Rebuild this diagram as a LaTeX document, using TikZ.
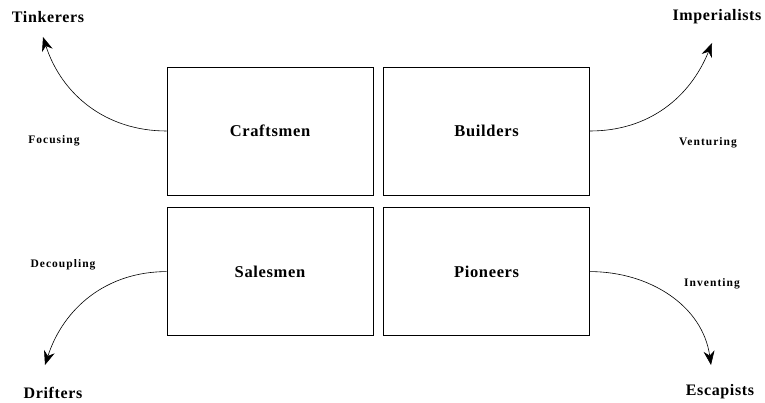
\documentclass[tikz,border=0pt]{standalone}
\usepackage{fontspec}
\setmainfont[LetterSpace=4]{Liberation Serif}
\newfontfamily\verbfont[LetterSpace=9]{Liberation Serif}
\usepackage{tikz}
\usetikzlibrary{arrows.meta,positioning}

\begin{document}
\begin{tikzpicture}[x=1pt,y=-1pt, node distance=12pt and 10pt,
 cell/.style={draw,line width=0.6pt,minimum width=206pt,minimum height=128pt,inner sep=0pt,font=\fontsize{16.5}{19}\selectfont\bfseries},
 fate/.style={font=\fontsize{16}{19}\selectfont\bfseries,inner sep=1pt},
 move/.style={font=\verbfont\fontsize{11.5}{14}\selectfont\bfseries,inner sep=1pt},
 arr/.style={-{Stealth[length=14pt,width=11pt]},line width=0.6pt}]
\useasboundingbox (0,0) rectangle (765,403);
% the four quadrants
\node[cell] (craft) at (270,131) {Craftsmen};
\node[cell,right=of craft] (build) {Builders};
\node[cell,below=of craft] (sales) {Salesmen};
\node[cell,below=of build] (pion) {Pioneers};
% outcomes
\node[fate] (tink) at (48,17) {Tinkerers};
\node[fate] (imp) at (717,17) {Imperialists};
\node[fate] (drift) at (53,393) {Drifters};
\node[fate] (esc) at (720,392) {Escapists};
\coordinate (tinkTip) at (43,37);
\coordinate (impTip) at (712,43);
\coordinate (driftTip) at (45,365);
\coordinate (escTip) at (711,365);
% moves
\node[move] (focus) at (54,141) {Focusing};
\node[move] (vent) at (708,143) {Venturing};
\node[move] (decoup) at (63,265) {Decoupling};
\node[move] (invent) at (712,284) {Inventing};
\draw[arr] (craft.west) to[out=180,in=-72] (tinkTip);
\draw[arr] (build.east) to[out=0,in=-112] (impTip);
\draw[arr] (sales.west) to[out=180,in=72] (driftTip);
\draw[arr] (pion.east) to[out=0,in=98] (escTip);
\end{tikzpicture}
\end{document}
